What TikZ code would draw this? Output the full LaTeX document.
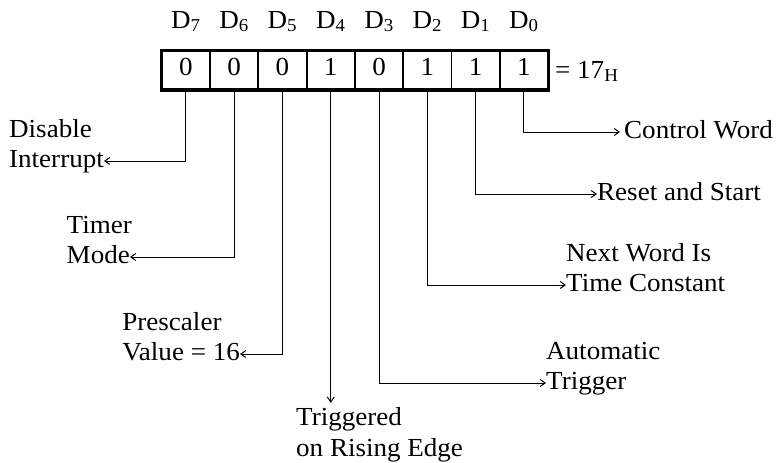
\documentclass[tikz,border=0pt]{standalone}
\usepackage{fontspec}
\setmainfont{Liberation Serif}[FakeStretch=1.04]
\usetikzlibrary{arrows.meta}
\begin{document}
\begin{tikzpicture}[x=1pt,y=-1pt,
  every node/.style={font=\fontsize{26}{31}\selectfont, inner sep=0pt},
  cell/.style={draw, line width=1.8pt, minimum width=48.3pt, minimum height=38.6pt, text height=17pt, text depth=7pt},
  lbl/.style={text height=17pt, text depth=5pt},
  conn/.style={line width=1pt, -{Straight Barb[length=5pt,width=7pt]}}]
\useasboundingbox (0,0) rectangle (777,463);
\foreach \i/\v [count=\k from 0] in {7/0,6/0,5/0,4/1,3/0,2/1,1/1,0/1} {
  \node[cell] (c\i) at (185.85+48.3*\k, 70) {\v};
  \node[anchor=base] (d\i) at (185.85+48.3*\k, 28) {D\textsubscript{\i}};
}
\draw[line width=2.6pt] (c7.north west) rectangle (c0.south east);
\node[anchor=base west] (eq) at (555,78) {= 17\textsubscript{H}};

% left side
\node[lbl, anchor=east] (l7) at (104,161) {Interrupt};
\node[anchor=base west] (l7a) at ([yshift=30pt]l7.base west) {Disable};
\draw[conn] (c7.south) |- (l7.east);

\node[lbl, anchor=east] (l6) at (130,257) {Mode};
\node[anchor=base west] (l6a) at ([yshift=30pt]l6.base west) {Timer};
\draw[conn] (c6.south) |- (l6.east);

\node[lbl, anchor=east] (l5) at (240,354) {Value = 16};
\node[anchor=base west] (l5a) at ([yshift=30pt]l5.base west) {Prescaler};
\draw[conn] (c5.south) |- (l5.east);

% bottom
\node[lbl, anchor=base west] (l4) at (296,425) {Triggered};
\node[anchor=base west] (l4b) at ([yshift=-31pt]l4.base west) {on Rising Edge};
\draw[conn, shorten >=5pt] (c4.south) -- (c4.south |- l4.north);

% right side
\node[lbl, anchor=west] (l3) at (546,383) {Trigger};
\node[anchor=base west] (l3a) at ([yshift=30pt]l3.base west) {Automatic};
\draw[conn] (c3.south) |- (l3.west);

\node[lbl, anchor=west] (l2) at (566,285) {Time Constant};
\node[anchor=base west] (l2a) at ([yshift=30pt]l2.base west) {Next Word Is};
\draw[conn] (c2.south) |- (l2.west);

\node[lbl, anchor=west] (l1) at (597,194) {Reset and Start};
\draw[conn] (c1.south) |- (l1.west);

\node[lbl, anchor=west] (l0) at (624,132) {Control Word};
\draw[conn, shorten >=4pt] (c0.south) |- (l0.west);
\end{tikzpicture}
\end{document}
